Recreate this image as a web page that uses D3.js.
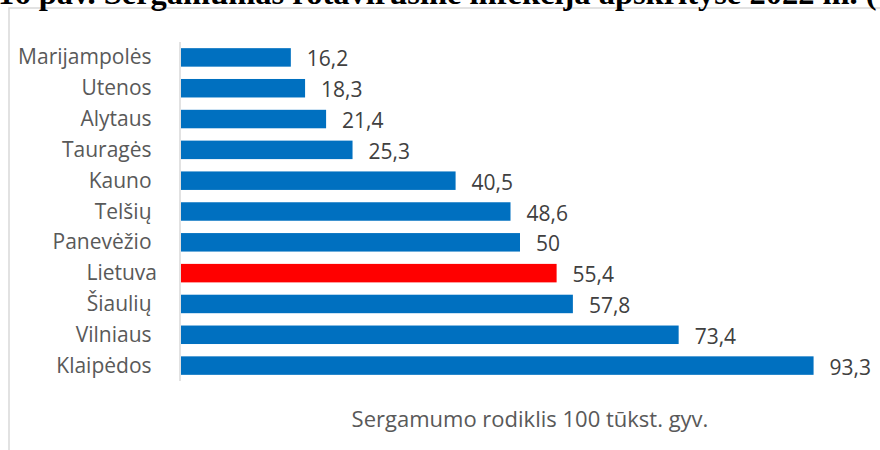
<!DOCTYPE html>
<html>
<head>
    <meta charset="utf-8">
    <script src="https://d3js.org/d3.v7.min.js"></script>
    <title>Sergamumas rotavirusine infekcija</title>
    <style>
      body { margin: 0; background: #fff; }
      svg text { font-family: "Open Sans", sans-serif; }
    </style>
</head>
<body>
    <svg id="chart" width="880" height="450"></svg>

    <script>
    // data
    const regions = ["Marijampolės", "Utenos", "Alytaus", "Tauragės", "Kauno", "Telšių",
                     "Panevėžio", "Lietuva", "Šiaulių", "Vilniaus", "Klaipėdos"];
    const rates = [16.2, 18.3, 21.4, 25.3, 40.5, 48.6, 50, 55.4, 57.8, 73.4, 93.3];
    const highlight = "Lietuva";
    const titleText = "16 pav. Sergamumas rotavirusine infekcija apskrityse 2022 m. (";
    const axisTitle = "Sergamumo rodiklis 100 tūkst. gyv.";

    const svg = d3.select("svg#chart");
    const width = +svg.attr("width");
    const height = +svg.attr("height");
    const margins = {"top": 42, "right": 0, "bottom": 69, "left": 180};

    // chart frame
    svg.append("rect")
       .attr("x", 9)
       .attr("y", 8)
       .attr("width", width + 20)
       .attr("height", height + 20)
       .attr("fill", "white")
       .attr("stroke", "#d9d9d9")
       .attr("stroke-width", 1.5);

    // caption, cut off at the top edge as in the page it came from
    svg.append("text")
       .attr("x", -2)
       .attr("y", 4)
       .style("font-family", "'Liberation Serif', serif")
       .attr("font-weight", "bold")
       .attr("font-size", 32.5)
       .attr("fill", "black")
       .text(titleText);

    const x = d3.scaleLinear()
                .domain([0, 100])
                .range([margins.left + 1, margins.left + 1 + 678]);

    const y = d3.scaleBand()
                .domain(regions)
                .range([margins.top, height - margins.bottom])
                .paddingInner(0.4)
                .paddingOuter(0.2);

    // category axis line
    svg.append("line")
       .attr("x1", margins.left)
       .attr("x2", margins.left)
       .attr("y1", margins.top)
       .attr("y2", height - margins.bottom)
       .attr("stroke", "#d9d9d9")
       .attr("stroke-width", 1.5);

    svg.selectAll("rect.bar")
       .data(rates)
       .join("rect")
       .attr("class", "bar")
       .attr("x", x(0))
       .attr("y", (d, i) => y(regions[i]))
       .attr("width", d => x(d) - x(0))
       .attr("height", y.bandwidth())
       .attr("fill", (d, i) => regions[i] === highlight ? "#ff0000" : "#0070c0");

    // value labels
    svg.selectAll("text.value")
       .data(rates)
       .join("text")
       .attr("class", "value")
       .attr("x", d => x(d) + 16)
       .attr("y", (d, i) => y(regions[i]) + y.bandwidth() / 2 + 9)
       .attr("font-size", 21)
       .attr("fill", "#404040")
       .text(d => String(d).replace(".", ","));

    // category labels
    svg.selectAll("text.cat")
       .data(regions)
       .join("text")
       .attr("class", "cat")
       .attr("x", margins.left - 23)
       .attr("y", d => y(d) + y.bandwidth() / 2 + 7)
       .attr("text-anchor", "end")
       .attr("font-size", 21)
       .attr("fill", "#595959")
       .text(d => d === highlight ? d : d + "\u00a0");

    // axis title
    svg.append("text")
       .attr("x", (margins.left + width) / 2)
       .attr("y", 427)
       .attr("text-anchor", "middle")
       .attr("font-size", 22)
       .attr("fill", "#595959")
       .text(axisTitle);
    </script>
</body>
</html>
